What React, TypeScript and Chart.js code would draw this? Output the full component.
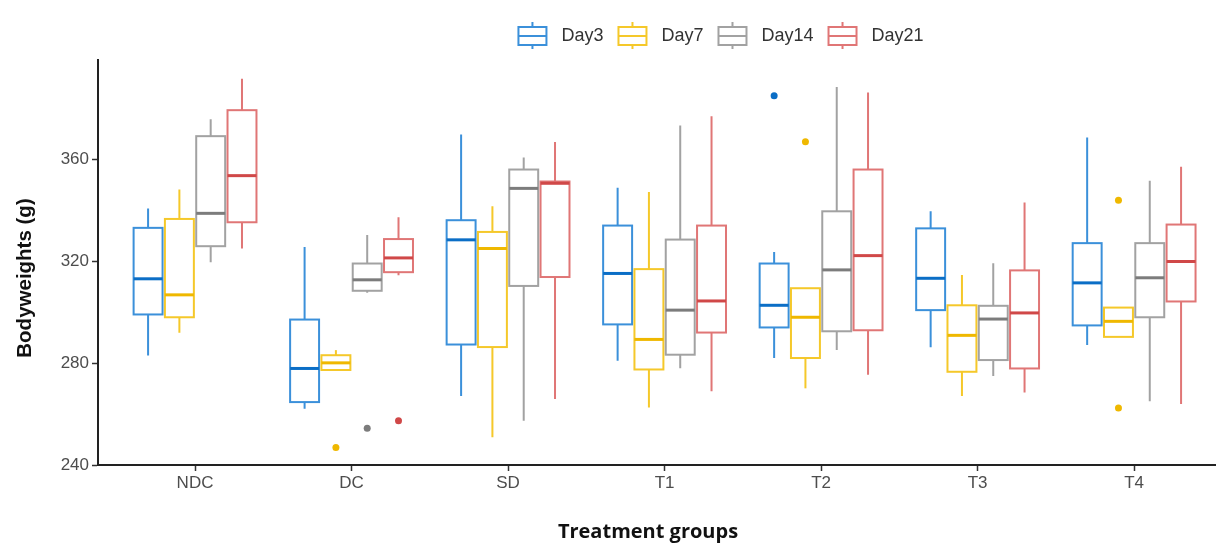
import React, { useEffect, useRef } from 'react';
import { Chart, registerables } from 'chart.js';

Chart.register(...registerables);

const categories = ['NDC', 'DC', 'SD', 'T1', 'T2', 'T3', 'T4'];
const seriesNames = ['Day3', 'Day7', 'Day14', 'Day21'];
const seriesColors = ['#3b90da', '#f5c82a', '#a2a2a2', '#e07676'];
const medianColors = ['#0b6ec6', '#efb800', '#7c7c7c', '#d04848'];

// Each row: [lower whisker, Q1, median, Q3, upper whisker], one row per category
const day3Stats = [
  [283, 299.1, 313.1, 333.1, 340.7],
  [262.1, 264.7, 277.9, 297.1, 325.6],
  [267.1, 287.3, 328.4, 336.1, 369.8],
  [280.9, 295.2, 315.2, 334, 348.8],
  [282, 294, 302.7, 319.1, 323.6],
  [286.2, 300.8, 313.3, 332.9, 339.6],
  [287.1, 294.8, 311.5, 327.1, 368.6],
];
const day7Stats = [
  [291.9, 298, 306.8, 336.6, 348.2],
  [277.3, 277.3, 280.1, 283.1, 285.1],
  [250.9, 286.3, 325, 331.5, 341.6],
  [262.6, 277.5, 289.3, 316.9, 347.2],
  [270.1, 282, 298, 309.4, 309.4],
  [267.1, 276.6, 290.9, 302.7, 314.6],
  [290.3, 290.3, 296.4, 301.8, 301.8],
];
const day14Stats = [
  [319.6, 325.9, 338.8, 369.1, 375.7],
  [307.6, 308.4, 312.7, 319.1, 330.3],
  [257.4, 310.3, 348.6, 356, 360.7],
  [278, 283.3, 300.8, 328.5, 373.3],
  [285.1, 292.5, 316.6, 339.6, 388.4],
  [274.9, 281.2, 297.3, 302.5, 319.2],
  [265, 298, 313.5, 327.1, 351.6],
];
const day21Stats = [
  [325, 335.3, 353.6, 379.3, 391.6],
  [314.5, 315.7, 321.3, 328.7, 337.3],
  [265.9, 313.8, 350.6, 351.3, 366.8],
  [269, 292, 304.4, 334, 376.9],
  [275.4, 292.9, 322.2, 356, 386.2],
  [268.5, 277.9, 299.7, 316.4, 343.1],
  [263.9, 304.2, 319.9, 334.4, 357.1],
];

// Outliers: [category, value]
const day3Outliers: [string, number][] = [['T2', 385]];
const day7Outliers: [string, number][] = [['DC', 246.9], ['T2', 366.9], ['T4', 343.9], ['T4', 262.4]];
const day14Outliers: [string, number][] = [['DC', 254.4]];
const day21Outliers: [string, number][] = [['DC', 257.4]];

const yTicks = [240, 280, 320, 360];
const yMin = 240;
const yMax = 399;

const allStats = [day3Stats, day7Stats, day14Stats, day21Stats];
const allOutliers = [day3Outliers, day7Outliers, day14Outliers, day21Outliers];

const DODGE = 0.2;
const HALF_BOX = 0.0925;
const seriesOffset = (s: number) => (s - 1.5) * DODGE;

const boxPlugin = {
  id: 'boxes',
  beforeDatasetsDraw(chart: any) {
    const { ctx, scales } = chart;
    const xs = scales.x;
    const ys = scales.y;
    ctx.save();
    allStats.forEach((stats, s) => {
      stats.forEach((row, g) => {
        const [lo, q1, med, q3, hi] = row;
        const c = g + seriesOffset(s);
        const px = xs.getPixelForValue(c);
        const pl = xs.getPixelForValue(c - HALF_BOX);
        const pr = xs.getPixelForValue(c + HALF_BOX);
        const yLo = ys.getPixelForValue(lo);
        const yQ1 = ys.getPixelForValue(q1);
        const yMed = ys.getPixelForValue(med);
        const yQ3 = ys.getPixelForValue(q3);
        const yHi = ys.getPixelForValue(hi);
        ctx.strokeStyle = seriesColors[s];
        ctx.lineWidth = 2;
        ctx.beginPath();
        ctx.moveTo(px, yHi);
        ctx.lineTo(px, yQ3);
        ctx.moveTo(px, yQ1);
        ctx.lineTo(px, yLo);
        ctx.stroke();
        ctx.strokeRect(pl, yQ3, pr - pl, yQ1 - yQ3);
        ctx.strokeStyle = medianColors[s];
        ctx.lineWidth = 3;
        ctx.beginPath();
        ctx.moveTo(pl, yMed);
        ctx.lineTo(pr, yMed);
        ctx.stroke();
      });
    });
    ctx.restore();
  },
  afterDraw(chart: any) {
    const { ctx } = chart;
    ctx.save();
    // Axis titles
    ctx.fillStyle = '#111';
    ctx.textAlign = 'center';
    ctx.textBaseline = 'middle';
    ctx.font = 'bold 20.5px "Liberation Sans", Arial, sans-serif';
    ctx.save();
    ctx.translate(25, 278);
    ctx.rotate(-Math.PI / 2);
    ctx.fillText('Bodyweights (g)', 0, 0);
    ctx.restore();
    ctx.font = 'bold 20px "Open Sans", sans-serif';
    ctx.fillText('Treatment groups', 648, 532);

    // Legend
    ctx.font = '18px "Liberation Sans", Arial, sans-serif';
    ctx.textAlign = 'left';
    const iconW = 28;
    const gapIcon = 15;
    const gapItem = 15;
    const widths = seriesNames.map((n) => iconW + gapIcon + ctx.measureText(n).width);
    const total = widths.reduce((a, b) => a + b, 0) + gapItem * (seriesNames.length - 1);
    let x = 721 - total / 2;
    const cy = 36;
    seriesNames.forEach((name, s) => {
      const l = x;
      const cx = l + iconW / 2;
      ctx.strokeStyle = seriesColors[s];
      ctx.lineWidth = 2;
      ctx.beginPath();
      ctx.moveTo(cx, cy - 14);
      ctx.lineTo(cx, cy - 9);
      ctx.moveTo(cx, cy + 9);
      ctx.lineTo(cx, cy + 13);
      ctx.stroke();
      ctx.strokeRect(l, cy - 9, iconW, 18);
      ctx.beginPath();
      ctx.moveTo(l, cy);
      ctx.lineTo(l + iconW, cy);
      ctx.stroke();
      ctx.fillStyle = '#333';
      ctx.fillText(name, l + iconW + gapIcon, cy);
      x += widths[s] + gapItem;
    });
    ctx.restore();
  },
};

export default function App() {
  const ref = useRef<HTMLCanvasElement | null>(null);

  useEffect(() => {
    if (!ref.current) return;
    const datasets = allOutliers.map((list, s) => ({
      type: 'scatter' as const,
      label: seriesNames[s],
      data: list.map(([cat, v]) => ({ x: categories.indexOf(cat) + seriesOffset(s), y: v })),
      backgroundColor: medianColors[s],
      borderColor: medianColors[s],
      pointRadius: 3.5,
      pointHoverRadius: 3.5,
      borderWidth: 0,
    }));
    const chart = new Chart(ref.current, {
      type: 'scatter',
      data: { datasets },
      options: {
        animation: false,
        responsive: true,
        maintainAspectRatio: false,
        layout: { padding: { top: 60, left: 0, right: -4, bottom: 0 } },
        plugins: {
          legend: { display: false },
          tooltip: { enabled: false },
        },
        scales: {
          x: {
            type: 'linear',
            min: -0.62,
            max: 6.52,
            afterBuildTicks: (s: any) => {
              s.ticks = categories.map((_, i) => ({ value: i }));
            },
            afterFit: (s: any) => {
              s.height = 78;
            },
            ticks: {
              callback: (_v: any, i: number) => categories[i],
              font: { size: 17, family: '"Liberation Sans", Arial, sans-serif' },
              color: '#4d4d4d',
              padding: 2,
              autoSkip: false,
              maxRotation: 0,
            },
            grid: { drawOnChartArea: false, drawTicks: true, tickLength: 6, tickColor: '#333', tickWidth: 1.5 },
            border: { display: true, color: '#222', width: 2 },
          },
          y: {
            min: yMin,
            max: yMax,
            afterBuildTicks: (s: any) => {
              s.ticks = yTicks.map((v) => ({ value: v }));
            },
            afterFit: (s: any) => {
              s.width = 98;
            },
            ticks: {
              font: { size: 17, family: '"Liberation Sans", Arial, sans-serif' },
              color: '#4d4d4d',
              padding: 3,
            },
            grid: { drawOnChartArea: false, drawTicks: true, tickLength: 6, tickColor: '#333', tickWidth: 1.5 },
            border: { display: true, color: '#222', width: 2 },
          },
        },
      },
      plugins: [boxPlugin],
    } as any);
    return () => chart.destroy();
  }, []);

  return (
    <div style={{ position: 'fixed', left: 0, top: 0, width: 1219, height: 543, background: '#fff' }}>
      <canvas ref={ref} />
    </div>
  );
}
